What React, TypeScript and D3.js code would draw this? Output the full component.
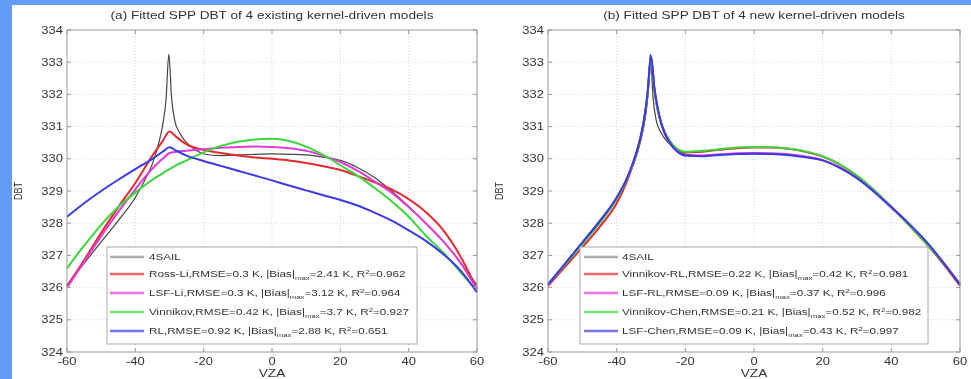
import React from 'react';
import * as d3 from 'd3';

// axis ticks
const vzaTicks = [-60, -40, -20, 0, 20, 40, 60];
const dbtTicks = [324, 325, 326, 327, 328, 329, 330, 331, 332, 333, 334];

// 4SAIL simulated DBT (reference curve in both panels)
const sailVza = [-60, -55, -50, -45, -40, -37, -35, -33, -32, -31, -30.2, -29.4, -28.5, -27, -25, -22, -20, -15, -10, -5, 0, 5, 10, 15, 20, 25, 30, 35, 40, 45, 50, 55, 60];
const sailDbt = [326.08, 326.75, 327.42, 328.08, 328.8, 329.38, 329.85, 330.55, 331.05, 331.85, 333.25, 331.9, 331.2, 330.8, 330.5, 330.25, 330.15, 330.1, 330.12, 330.14, 330.15, 330.14, 330.12, 330.05, 329.95, 329.73, 329.42, 329.0, 328.52, 328.0, 327.45, 326.8, 326.08];

// (a) existing kernel-driven models
const vzaA = [-60, -55, -50, -45, -40, -35, -32, -30, -28, -25, -20, -15, -10, -5, 0, 5, 10, 15, 20, 25, 30, 35, 40, 45, 50, 55, 60];
const rossLi = [326.05, 326.85, 327.7, 328.5, 329.25, 330.1, 330.55, 330.85, 330.68, 330.45, 330.28, 330.18, 330.1, 330.04, 330.0, 329.95, 329.87, 329.77, 329.65, 329.47, 329.27, 329.05, 328.75, 328.35, 327.8, 327.0, 325.95];
const lsfLi = [326.0, 326.8, 327.6, 328.35, 329.05, 329.7, 330.0, 330.18, 330.22, 330.25, 330.3, 330.34, 330.37, 330.38, 330.37, 330.33, 330.25, 330.1, 329.9, 329.63, 329.3, 328.95, 328.5, 328.0, 327.45, 326.8, 325.95];
const vinnikov = [326.6, 327.3, 327.95, 328.5, 328.95, 329.35, 329.55, 329.68, 329.8, 329.95, 330.2, 330.4, 330.53, 330.6, 330.62, 330.55, 330.38, 330.12, 329.8, 329.48, 329.1, 328.68, 328.2, 327.62, 327.1, 326.5, 325.9];
const rl = [328.2, 328.62, 329.0, 329.35, 329.68, 330.0, 330.22, 330.36, 330.25, 330.1, 329.93, 329.78, 329.63, 329.48, 329.33, 329.17, 329.02, 328.87, 328.72, 328.55, 328.33, 328.08, 327.78, 327.45, 327.05, 326.55, 325.85];

// (b) new kernel-driven models
const vzaB = [-60, -55, -50, -45, -40, -37, -35, -33, -32, -31, -30, -29, -28, -27, -26, -24, -22, -20, -15, -10, -5, 0, 5, 10, 15, 20, 25, 30, 35, 40, 45, 50, 55, 60];
const vinnikovRl = [326.05, 326.65, 327.25, 327.88, 328.62, 329.3, 329.9, 330.65, 331.2, 332.0, 333.1, 332.1, 331.5, 331.1, 330.82, 330.47, 330.27, 330.2, 330.22, 330.28, 330.33, 330.35, 330.35, 330.31, 330.22, 330.07, 329.82, 329.47, 329.02, 328.5, 327.95, 327.38, 326.75, 326.05];
const lsfRl = [326.08, 326.73, 327.38, 328.03, 328.78, 329.38, 329.93, 330.68, 331.22, 332.0, 333.15, 332.15, 331.5, 331.08, 330.78, 330.4, 330.2, 330.1, 330.1, 330.14, 330.17, 330.18, 330.17, 330.14, 330.07, 329.96, 329.73, 329.4, 328.97, 328.48, 327.98, 327.43, 326.8, 326.1];
const vinnikovChen = [326.12, 326.72, 327.35, 328.0, 328.75, 329.38, 329.93, 330.68, 331.22, 332.02, 333.15, 332.15, 331.52, 331.1, 330.82, 330.48, 330.28, 330.22, 330.25, 330.3, 330.35, 330.37, 330.36, 330.32, 330.23, 330.08, 329.83, 329.48, 329.02, 328.5, 327.96, 327.4, 326.78, 326.12];
const lsfChen = [326.1, 326.75, 327.4, 328.05, 328.8, 329.4, 329.95, 330.7, 331.25, 332.05, 333.2, 332.2, 331.55, 331.1, 330.8, 330.42, 330.2, 330.1, 330.08, 330.12, 330.15, 330.16, 330.15, 330.12, 330.05, 329.95, 329.72, 329.4, 328.98, 328.5, 328.0, 327.45, 326.8, 326.1];

// legend statistics
const namesA = ['Ross-Li', 'LSF-Li', 'Vinnikov', 'RL'];
const rmseA = [0.3, 0.3, 0.42, 0.92];
const biasA = [2.41, 3.12, 3.7, 2.88];
const r2A = [0.962, 0.964, 0.927, 0.651];
const namesB = ['Vinnikov-RL', 'LSF-RL', 'Vinnikov-Chen', 'LSF-Chen'];
const rmseB = [0.22, 0.09, 0.21, 0.09];
const biasB = [0.42, 0.37, 0.52, 0.43];
const r2B = [0.981, 0.996, 0.982, 0.997];

const colors = ['#e52a2e', '#e23ad8', '#3ad63a', '#3b3be6'];
const SX = 1.3; // the picture is stretched sideways
const FONT = "Arial, 'Liberation Sans', sans-serif";
const TOP = 30;
const BOTTOM = 352;

function Txt({ x, y, size = 10, anchor = 'start', children, rot = false }: any) {
  const tf = rot ? `translate(${x},${y}) rotate(-90) scale(1,${SX})` : `translate(${x},${y}) scale(${SX},1)`;
  return (
    <text transform={tf} fontSize={size} textAnchor={anchor} fill="#333" fontFamily={FONT}>
      {children}
    </text>
  );
}

function Panel({ left, right, title, models, names, rmse, bias, r2, legX, legW, sampleX, textX }: any) {
  const x = d3.scaleLinear().domain([-60, 60]).range([left, right]);
  const y = d3.scaleLinear().domain([324, 334]).range([BOTTOM, TOP]);
  const line = d3.line<[number, number]>().x(d => x(d[0])).y(d => y(d[1])).curve(d3.curveMonotoneX);
  const sail = line(sailVza.map((v, i) => [v, sailDbt[i]]));
  const legY = 247;
  const rowY = [257, 274, 293, 312, 331];

  return (
    <g>
      <Txt x={(left + right) / 2} y={19} size={10.5} anchor="middle">{title}</Txt>
      {/* grid */}
      {vzaTicks.slice(1, -1).map(t => (
        <line key={'gx' + t} x1={x(t)} x2={x(t)} y1={TOP} y2={BOTTOM} stroke="#d8d8d8" strokeDasharray="1,2" />
      ))}
      {dbtTicks.slice(1, -1).map(t => (
        <line key={'gy' + t} x1={left} x2={right} y1={y(t)} y2={y(t)} stroke="#d8d8d8" strokeDasharray="1,2" />
      ))}
      {/* curves */}
      <path d={sail || ''} fill="none" stroke="#444" strokeWidth={1.2} />
      {models.map((m: any, i: number) => (
        <path key={i} d={line(m.vza.map((v: number, j: number) => [v, m.dbt[j]])) || ''} fill="none" stroke={colors[i]} strokeWidth={2} />
      ))}
      {/* box and ticks */}
      <rect x={left} y={TOP} width={right - left} height={BOTTOM - TOP} fill="none" stroke="#999" />
      {vzaTicks.map(t => (
        <g key={'tx' + t}>
          <line x1={x(t)} x2={x(t)} y1={BOTTOM} y2={BOTTOM - 4} stroke="#999" />
          <line x1={x(t)} x2={x(t)} y1={TOP} y2={TOP + 4} stroke="#999" />
          <Txt x={x(t)} y={365} anchor="middle">{t}</Txt>
        </g>
      ))}
      {dbtTicks.map(t => (
        <g key={'ty' + t}>
          <line x1={left} x2={left + 4} y1={y(t)} y2={y(t)} stroke="#999" />
          <line x1={right} x2={right - 4} y1={y(t)} y2={y(t)} stroke="#999" />
          <Txt x={left - 4} y={y(t) + 3.5} anchor="end">{t}</Txt>
        </g>
      ))}
      <Txt x={(left + right) / 2} y={377} size={10.5} anchor="middle">VZA</Txt>
      <Txt x={left - 45} y={(TOP + BOTTOM) / 2} size={9} anchor="middle" rot>DBT</Txt>
      {/* legend */}
      <rect x={legX} y={legY} width={legW} height={97} fill="#fff" stroke="#aaa" />
      <line x1={sampleX} x2={sampleX + 34} y1={rowY[0]} y2={rowY[0]} stroke="#444" strokeOpacity={0.45} strokeWidth={2.5} />
      <Txt x={textX} y={rowY[0] + 3} size={9}>4SAIL</Txt>
      {names.map((n: string, i: number) => (
        <g key={n}>
          <line x1={sampleX} x2={sampleX + 34} y1={rowY[i + 1]} y2={rowY[i + 1]} stroke={colors[i]} strokeOpacity={0.7} strokeWidth={2.5} />
          <Txt x={textX} y={rowY[i + 1] + 3} size={9}>
            {`${n},RMSE=${rmse[i]} K, |Bias|`}
            <tspan fontSize={6} dy={3}>max</tspan>
            <tspan dy={-3}>{`=${bias[i]} K, R`}</tspan>
            <tspan fontSize={6} dy={-3}>2</tspan>
            <tspan dy={3}>{`=${r2[i]}`}</tspan>
          </Txt>
        </g>
      ))}
    </g>
  );
}

export default function App() {
  const modelsA = [rossLi, lsfLi, vinnikov, rl].map(d => ({ vza: vzaA, dbt: d }));
  const modelsB = [vinnikovRl, lsfRl, vinnikovChen, lsfChen].map(d => ({ vza: vzaB, dbt: d }));
  return (
    <svg width={971} height={379} style={{ position: 'absolute', left: 0, top: 0, display: 'block' }}>
      <defs>
        <filter id="soft" x="-2%" y="-2%" width="104%" height="104%">
          <feGaussianBlur stdDeviation={0.6} />
        </filter>
      </defs>
      <rect x={0} y={0} width={971} height={379} fill="#fff" />
      <rect x={0} y={0} width={971} height={5} fill="#619cf5" />
      <rect x={0} y={0} width={12} height={379} fill="#619cf5" />
      <g filter="url(#soft)">
        <Panel left={67} right={477} title="(a) Fitted SPP DBT of 4 existing kernel-driven models"
          models={modelsA} names={namesA} rmse={rmseA} bias={biasA} r2={r2A}
          legX={107} legW={310} sampleX={110} textX={149} />
        <Panel left={548} right={960} title="(b) Fitted SPP DBT of 4 new kernel-driven models"
          models={modelsB} names={namesB} rmse={rmseB} bias={biasB} r2={r2B}
          legX={580} legW={348} sampleX={584} textX={622} />
      </g>
    </svg>
  );
}
